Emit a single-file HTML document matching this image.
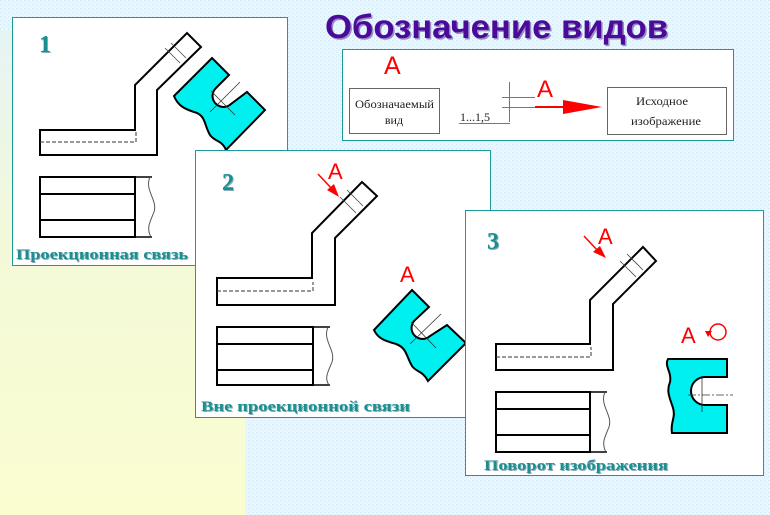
<!DOCTYPE html>
<html><head><meta charset="utf-8"><style>
html,body{margin:0;padding:0;width:770px;height:515px;overflow:hidden}
svg{display:block}
</style></head><body>
<svg width="770" height="515" viewBox="0 0 770 515" xmlns="http://www.w3.org/2000/svg" font-family="Liberation Sans, sans-serif">
<defs>
<linearGradient id="yl" x1="0" y1="0" x2="0" y2="1">
<stop offset="0" stop-color="#e6f4f4"/><stop offset="0.45" stop-color="#f3f9d8"/><stop offset="1" stop-color="#fbfdd0"/>
</linearGradient>
<pattern id="dots" width="4" height="4" patternUnits="userSpaceOnUse">
<rect width="4" height="4" fill="#eaf5fc"/><rect width="1" height="1" fill="#cde6f6"/><rect x="2" y="2" width="1" height="1" fill="#d6ecf8"/>
</pattern>
</defs>
<rect width="770" height="515" fill="url(#dots)"/>
<rect x="0" y="30" width="245" height="485" fill="url(#yl)"/>

<text x="325" y="38" font-size="33" font-weight="bold" fill="#9a8cc0" textLength="343" lengthAdjust="spacingAndGlyphs" transform="translate(1.5,1.5)">Обозначение видов</text>
<text x="325" y="38" font-size="33" font-weight="bold" fill="#4b0a9a" textLength="343" lengthAdjust="spacingAndGlyphs">Обозначение видов</text>

<!-- header box -->
<rect x="342.5" y="49.5" width="391" height="91" fill="#fff" stroke="#1a9a9a"/>
<text x="384" y="74" font-size="25" fill="#f00">A</text>
<rect x="349.5" y="88.5" width="90" height="45" fill="#fff" stroke="#666"/>
<text x="355" y="108" font-size="12" font-family="Liberation Serif, serif" fill="#222" textLength="79" lengthAdjust="spacingAndGlyphs">Обозначаемый</text>
<text x="394" y="124" font-size="12" font-family="Liberation Serif, serif" text-anchor="middle" fill="#222">вид</text>
<rect x="607.5" y="87.5" width="119" height="47" fill="#fff" stroke="#666"/>
<text x="636" y="105" font-size="12" font-family="Liberation Serif, serif" fill="#222" textLength="52" lengthAdjust="spacingAndGlyphs">Исходное</text>
<text x="631" y="125" font-size="12" font-family="Liberation Serif, serif" fill="#222" textLength="70" lengthAdjust="spacingAndGlyphs">изображение</text>
<g stroke="#777" stroke-width="1" fill="none">
<line x1="509.5" y1="82" x2="509.5" y2="122"/>
<line x1="502" y1="97.5" x2="535" y2="97.5"/>
<line x1="502" y1="107.5" x2="535" y2="107.5"/>
<line x1="459" y1="123.5" x2="510" y2="123.5"/>
</g>
<text x="460" y="121" font-size="12" font-family="Liberation Serif, serif" fill="#222" textLength="30" lengthAdjust="spacingAndGlyphs">1...1,5</text>
<text x="537" y="97" font-size="24" fill="#f00">A</text>
<line x1="535" y1="107" x2="570" y2="107" stroke="#f00" stroke-width="2"/>
<polygon points="563,100 602,107 563,114" fill="#f00"/>

<!-- panel 1 -->
<rect x="12.5" y="17.5" width="275" height="248" fill="#fff" stroke="#1a9a9a"/>
<text x="39" y="52" font-size="24" font-weight="bold" font-family="Liberation Serif, serif" fill="#8ab" transform="translate(1,1)">1</text>
<text x="39" y="52" font-size="24" font-weight="bold" font-family="Liberation Serif, serif" fill="#1a8f8f">1</text>
<g fill="none" stroke="#000" stroke-width="2">
<path d="M40,130 H135 V85 L187,33 L201,47 L157,90 V155 H40 Z"/>
<rect x="40" y="177" width="95" height="60"/>
<line x1="40" y1="194" x2="135" y2="194"/><line x1="40" y1="220" x2="135" y2="220"/>
<line x1="135" y1="177" x2="152" y2="177" stroke-width="1.5"/><line x1="135" y1="237" x2="152" y2="237" stroke-width="1.5"/>
</g>
<path d="M150,177 C144,190 158,200 154,212 C150,222 146,228 151,237" fill="none" stroke="#555"/>
<path d="M40,142 H136 V132" fill="none" stroke="#333" stroke-dasharray="4,2"/>
<g stroke="#444" stroke-width="0.8"><line x1="165" y1="48" x2="180" y2="63"/><line x1="171" y1="43" x2="186" y2="58"/></g>
<path d="M212,58 L229,75 L216,88 A9,9 0 0 0 231,104 L247,92 L265,110 L226,150 C222,140 215,142 210,135 C204,125 206,115 194,112 C185,109 178,106 174,96 Z" fill="#00f0f0" stroke="#000" stroke-width="2"/>
<g stroke="#333" stroke-width="0.8"><line x1="210" y1="112" x2="240" y2="82"/><line x1="211" y1="91" x2="235" y2="115"/></g>
<text x="16" y="259" font-size="15" font-weight="bold" font-family="Liberation Serif, serif" fill="#8ab" transform="translate(1,1)" textLength="172" lengthAdjust="spacingAndGlyphs">Проекционная связь</text>
<text x="16" y="259" font-size="15" font-weight="bold" font-family="Liberation Serif, serif" fill="#1a8f8f" textLength="172" lengthAdjust="spacingAndGlyphs">Проекционная связь</text>

<!-- panel 2 -->
<rect x="195.5" y="150.5" width="295" height="267" fill="#fff" stroke="#1a9a9a"/>
<text x="222" y="190" font-size="24" font-weight="bold" font-family="Liberation Serif, serif" fill="#8ab" transform="translate(1,1)">2</text>
<text x="222" y="190" font-size="24" font-weight="bold" font-family="Liberation Serif, serif" fill="#1a8f8f">2</text>
<g fill="none" stroke="#000" stroke-width="2">
<path d="M217,278 H312 V233 L362,182 L377,196 L335,238 V305 H217 Z"/>
<rect x="217" y="327" width="96" height="58"/>
<line x1="217" y1="344" x2="313" y2="344"/><line x1="217" y1="370" x2="313" y2="370"/>
<line x1="313" y1="327" x2="330" y2="327" stroke-width="1.5"/><line x1="313" y1="385" x2="330" y2="385" stroke-width="1.5"/>
</g>
<path d="M328,327 C322,340 336,350 332,362 C328,372 324,378 329,385" fill="none" stroke="#555"/>
<path d="M217,291 H313 V282" fill="none" stroke="#333" stroke-dasharray="4,2"/>
<g stroke="#444" stroke-width="0.8"><line x1="340" y1="197" x2="356" y2="213"/><line x1="347" y1="190" x2="363" y2="206"/></g>
<text x="328" y="179" font-size="22" fill="#f00">A</text>
<line x1="318" y1="174" x2="332" y2="189" stroke="#f00" stroke-width="1.5"/>
<polygon points="327,190 339,197 334,184" fill="#f00"/>
<text x="400" y="282" font-size="22" fill="#f00">A</text>
<path d="M412,290 L429,307 L415,320 A9,9 0 0 0 430,336 L447,325 L466,343 L428,381 C423,371 416,372 412,366 C406,356 407,348 396,344 C386,341 378,339 374,330 Z" fill="#00f0f0" stroke="#000" stroke-width="2"/>
<g stroke="#333" stroke-width="0.8"><line x1="410" y1="344" x2="441" y2="314"/><line x1="411" y1="322" x2="436" y2="348"/></g>
<text x="201" y="411" font-size="15" font-weight="bold" font-family="Liberation Serif, serif" fill="#8ab" transform="translate(1,1)" textLength="209" lengthAdjust="spacingAndGlyphs">Вне проекционной связи</text>
<text x="201" y="411" font-size="15" font-weight="bold" font-family="Liberation Serif, serif" fill="#1a8f8f" textLength="209" lengthAdjust="spacingAndGlyphs">Вне проекционной связи</text>

<!-- panel 3 -->
<rect x="465.5" y="210.5" width="298" height="265" fill="#fff" stroke="#1a9a9a"/>
<text x="487" y="249" font-size="24" font-weight="bold" font-family="Liberation Serif, serif" fill="#8ab" transform="translate(1,1)">3</text>
<text x="487" y="249" font-size="24" font-weight="bold" font-family="Liberation Serif, serif" fill="#1a8f8f">3</text>
<g fill="none" stroke="#000" stroke-width="2">
<path d="M496,344 H590 V300 L643,247 L656,261 L613,304 V370 H496 Z"/>
<rect x="496" y="392" width="94" height="60"/>
<line x1="496" y1="409" x2="590" y2="409"/><line x1="496" y1="435" x2="590" y2="435"/>
<line x1="590" y1="392" x2="607" y2="392" stroke-width="1.5"/><line x1="590" y1="452" x2="607" y2="452" stroke-width="1.5"/>
</g>
<path d="M605,392 C599,405 613,415 609,427 C605,437 601,443 606,452" fill="none" stroke="#555"/>
<path d="M496,357 H591 V347" fill="none" stroke="#333" stroke-dasharray="4,2"/>
<g stroke="#444" stroke-width="0.8"><line x1="620" y1="261" x2="636" y2="277"/><line x1="627" y1="254" x2="643" y2="270"/></g>
<text x="598" y="244" font-size="22" fill="#f00">A</text>
<line x1="584" y1="236" x2="598" y2="251" stroke="#f00" stroke-width="1.5"/>
<polygon points="593,252 606,258 600,246" fill="#f00"/>
<text x="681" y="343" font-size="22" fill="#f00">A</text>
<circle cx="718" cy="332" r="8" fill="none" stroke="#f00" stroke-width="1.5"/>
<polygon points="705,331 712,331 708,337" fill="#f00"/>
<path d="M668,359 H727 V377 H705 A14,14 0 0 0 705,405 H727 V433 H672 C670,422 676,418 673,408 C670,398 666,392 670,382 C672,372 664,366 668,359 Z" fill="#00f0f0" stroke="#000" stroke-width="2"/>
<g stroke="#333" stroke-width="0.8"><line x1="688" y1="395" x2="733" y2="395" stroke-dasharray="8,2,2,2"/><line x1="702" y1="378" x2="702" y2="412"/></g>
<text x="484" y="470" font-size="15" font-weight="bold" font-family="Liberation Serif, serif" fill="#8ab" transform="translate(1,1)" textLength="184" lengthAdjust="spacingAndGlyphs">Поворот изображения</text>
<text x="484" y="470" font-size="15" font-weight="bold" font-family="Liberation Serif, serif" fill="#1a8f8f" textLength="184" lengthAdjust="spacingAndGlyphs">Поворот изображения</text>
</svg>
</body></html>
